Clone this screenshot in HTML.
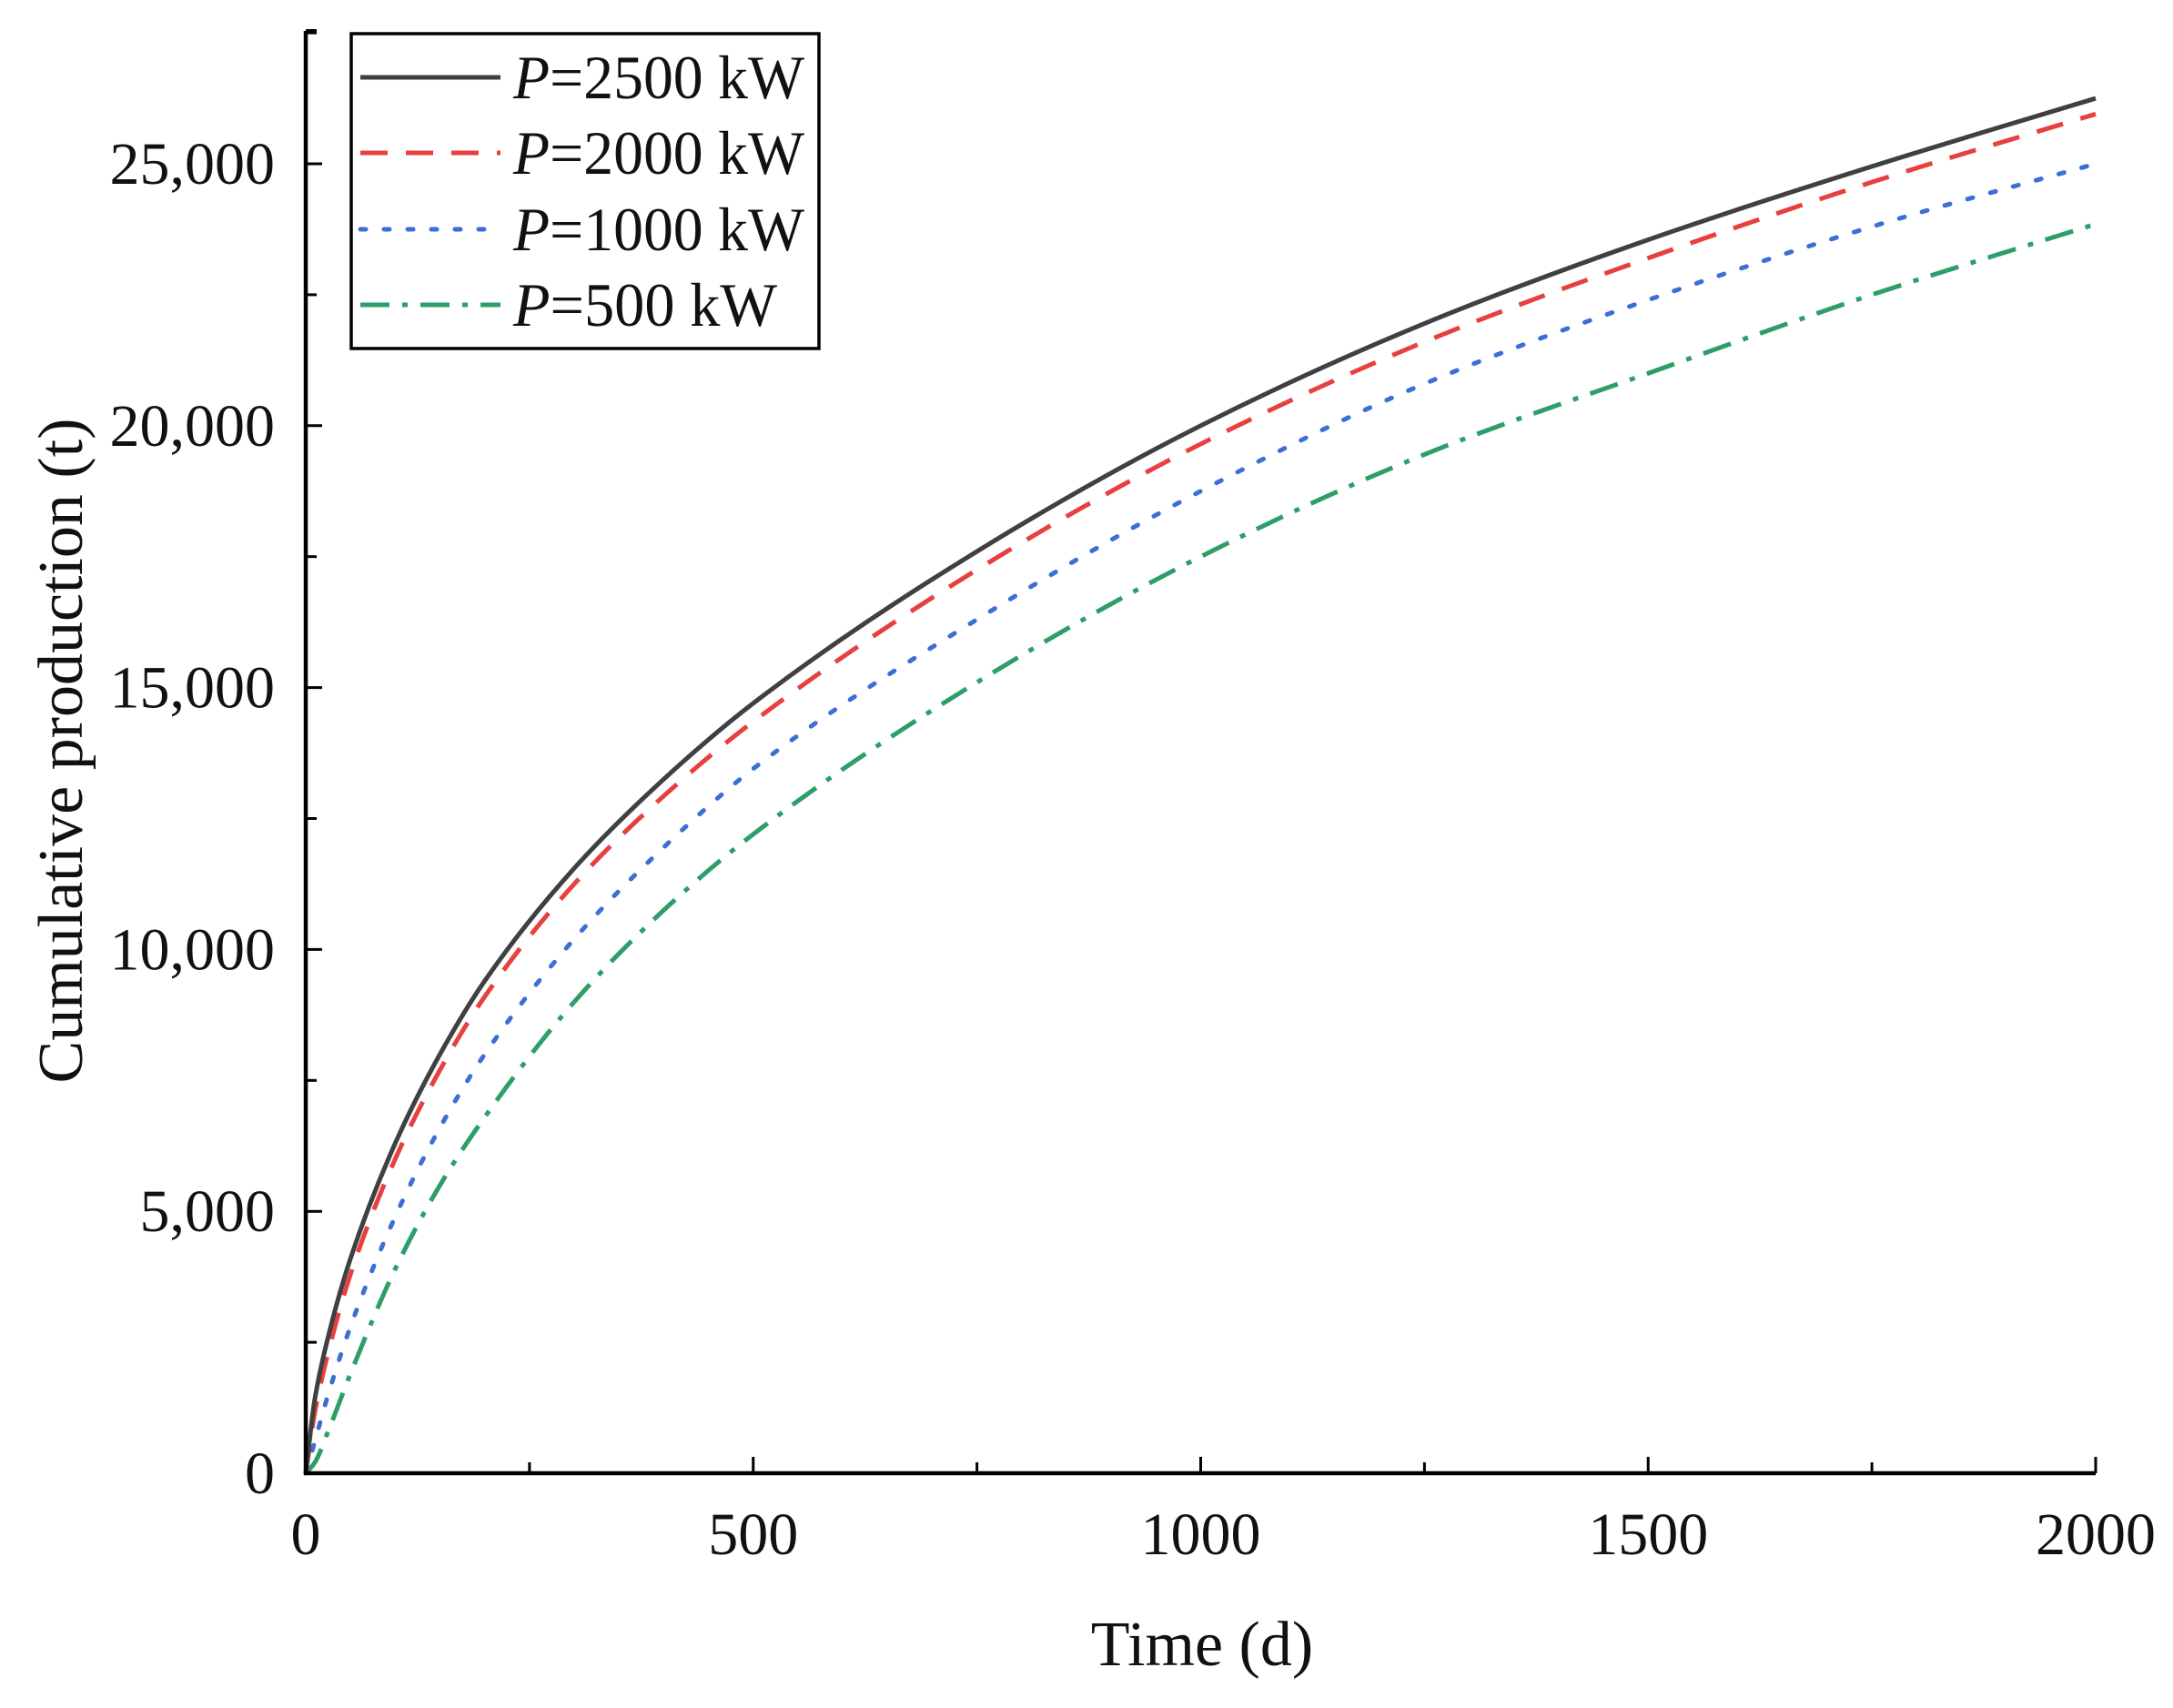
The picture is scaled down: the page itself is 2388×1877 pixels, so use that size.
<!DOCTYPE html>
<html><head><meta charset="utf-8"><style>
html,body{margin:0;padding:0;background:#fff;}
svg{display:block;font-family:"Liberation Serif",serif;}
</style></head><body>
<svg id="chart" width="2388" height="1877" viewBox="0 0 2388 1877">
<g id="plot"></g>
<g id="axes"></g>
<g id="legend"></g>
</svg>
<script>
const times = [0,10,25,50,100,150,200,300,400,500,750,1000,1250,1500,1750,2000];
const p2500 = [0,1400,2600,4100,6300,8000,9400,11550,13250,14700,17600,20000,21950,23550,24950,26250];
const p2000 = [0,1150,2300,3800,6000,7700,9100,11250,12930,14350,17250,19650,21600,23200,24650,25950];
const p1000 = [0,600,1500,2800,4900,6600,8000,10200,11950,13450,16300,18750,20800,22400,23800,25000];
const p500 = [0,200,800,1900,3900,5500,6800,9000,10750,12200,15100,17500,19450,21000,22500,23850];
const xTicks = [0,500,1000,1500,2000];
const yTicks = [0,5000,10000,15000,20000,25000];
const yTickLabels = ["0","5,000","10,000","15,000","20,000","25,000"];
const seriesNames = ["P=2500 kW","P=2000 kW","P=1000 kW","P=500 kW"];

const NS="http://www.w3.org/2000/svg";
const X0=336,X1=2303,Y0=1619,Y1=180,YTOP=34;
const xs=t=>X0+(t/2000)*(X1-X0);
const ys=v=>Y0-(v/25000)*(Y0-Y1);
function mk(tag,attrs,parent){const e=document.createElementNS(NS,tag);for(const k in attrs)e.setAttribute(k,attrs[k]);parent.appendChild(e);return e;}
const plot=document.getElementById('plot'),axes=document.getElementById('axes'),legend=document.getElementById('legend');

const styles=[
 {c:"#404040",d:"",n:"series-p2500"},
 {c:"#e8403f",d:"30 20",n:"series-p2000"},
 {c:"#3b6fd6",d:"6 20",n:"series-p1000"},
 {c:"#2e9e68",d:"32 14 6 14",n:"series-p500"}];
const data=[p2500,p2000,p1000,p500];
function pathFor(arr){
 const n=times.length,d=[],m=new Array(n);
 for(let i=0;i<n-1;i++)d.push((arr[i+1]-arr[i])/(times[i+1]-times[i]));
 m[0]=d[0];m[n-1]=d[n-2];
 for(let i=1;i<n-1;i++){
  if(d[i-1]*d[i]<=0)m[i]=0;
  else{const h0=times[i]-times[i-1],h1=times[i+1]-times[i];const w1=2*h1+h0,w2=h1+2*h0;m[i]=(w1+w2)/(w1/d[i-1]+w2/d[i]);}
 }
 let p="M"+xs(times[0])+","+ys(arr[0]);
 for(let i=0;i<n-1;i++){
  const h=times[i+1]-times[i];
  const c1t=times[i]+h/3,c1v=arr[i]+m[i]*h/3;
  const c2t=times[i+1]-h/3,c2v=arr[i+1]-m[i+1]*h/3;
  p+=` C${xs(c1t)},${ys(c1v)} ${xs(c2t)},${ys(c2v)} ${xs(times[i+1])},${ys(arr[i+1])}`;
 }
 return p;
}
for(let s=3;s>=0;s--){
 const p=mk('path',{d:pathFor(data[s]),fill:"none",stroke:styles[s].c,"stroke-width":5,"stroke-dasharray":styles[s].d,"stroke-linecap":s==2?"round":"butt"},plot);
 
 
}
const ya=mk('path',{d:`M${X0},${YTOP} V${Y0} H${X1}`,fill:"none",stroke:"#000","stroke-width":4.5},axes);


mk('line',{x1:X0,y1:YTOP,x2:X0+12,y2:YTOP,stroke:"#000","stroke-width":4},axes);
for(let v=0;v<=27500;v+=2500){
 const major=v%5000===0;
 mk('line',{x1:X0,y1:ys(v),x2:X0+(major?18:12),y2:ys(v),stroke:"#000","stroke-width":3},axes);
}
yTicks.forEach((v,i)=>{
 const t=mk('text',{x:302,y:ys(v)+22,"text-anchor":"end","font-size":66,fill:"#111"},axes);
 t.textContent=yTickLabels[i];
 
 
});
for(let t=0;t<=2000;t+=250){
 const major=t%500===0;
 mk('line',{x1:xs(t),y1:Y0,x2:xs(t),y2:Y0-(major?18:12),stroke:"#000","stroke-width":3},axes);
}
xTicks.forEach(v=>{
 const t=mk('text',{x:xs(v),y:1708,"text-anchor":"middle","font-size":66,fill:"#111"},axes);
 t.textContent=String(v);
 
 
});
const xt=mk('text',{x:1321,y:1830,"text-anchor":"middle","font-size":70,fill:"#111"},axes);
xt.textContent="Time (d)";


const yt=mk('text',{x:0,y:0,"text-anchor":"middle","font-size":70,fill:"#111",transform:"translate(90,825) rotate(-90)"},axes);
yt.textContent="Cumulative production (t)";


const box=mk('rect',{x:386,y:37,width:514,height:346,fill:"#fff",stroke:"#000","stroke-width":3.5},legend);


const ly=[85,168,252,335];
seriesNames.forEach((n,i)=>{
 const g=mk('g',{},legend);
 
 
 mk('line',{x1:396,y1:ly[i],x2:550,y2:ly[i],stroke:styles[i].c,"stroke-width":5,"stroke-dasharray":styles[i].d,"stroke-linecap":i==2?"round":"butt"},g);
 const t=mk('text',{x:564,y:ly[i]+23,"font-size":68,fill:"#111","textLength":i==3?290:320,"lengthAdjust":"spacingAndGlyphs"},g);
 const parts=n.split("=");
 const it=mk('tspan',{"font-style":"italic"},t); it.textContent=parts[0];
 const rest=mk('tspan',{},t); rest.textContent="="+parts[1];
});
</script>
</body></html>
